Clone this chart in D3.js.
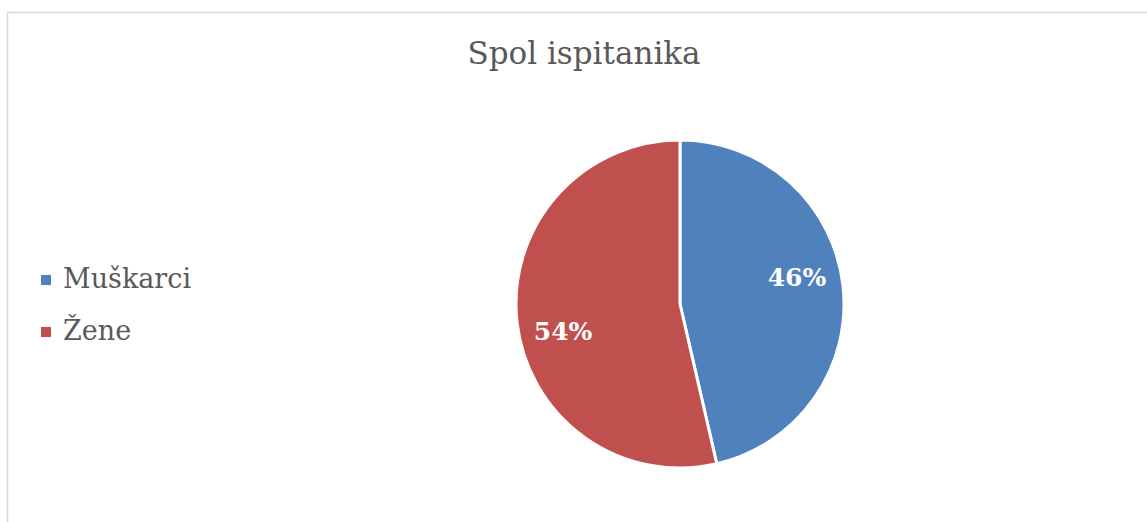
<!DOCTYPE html>
<html>
<head>
<meta charset="utf-8">
<script src="https://cdn.jsdelivr.net/npm/d3@7"></script>
<style>
  body { margin: 0; background: #fff; }
  svg { display: block; }
</style>
</head>
<body>
<svg id="chart" width="1147" height="522"></svg>
<script>
// data
var categories = ["Muškarci", "Žene"];
var values = [46.4, 53.6];
var labels = ["46%", "54%"];
var colors = ["#4F81BD", "#C0504D"];
var title = "Spol ispitanika";

var svg = d3.select("#chart");
var font = "'DejaVu Serif', serif";

// chart area frame (bottom runs off the picture)
svg.append("rect")
    .attr("x", 7.5).attr("y", 12.5)
    .attr("width", 1160).attr("height", 540)
    .attr("fill", "#fff")
    .attr("stroke", "#d9d9d9").attr("stroke-width", 1.5);

svg.append("text")
    .attr("x", 584).attr("y", 64)
    .attr("text-anchor", "middle")
    .attr("font-family", font)
    .attr("font-size", 31)
    .attr("fill", "#595959")
    .text(title);

var cx = 680, cy = 304, r = 164;

var pie = d3.pie().sort(null).value(function(d) { return d; });
var arcs = pie(values);
var arc = d3.arc().innerRadius(0).outerRadius(r);

var g = svg.append("g").attr("transform", "translate(" + cx + "," + cy + ")");

g.selectAll("path")
    .data(arcs)
    .enter().append("path")
    .attr("d", arc)
    .attr("fill", function(d, i) { return colors[i]; })
    .attr("stroke", "#fff")
    .attr("stroke-width", 3)
    .attr("stroke-linejoin", "round");

// labels sit a little counter-clockwise of the slice middle (excel best fit)
var lr = 120, shift = 6.5 * Math.PI / 180;
g.selectAll("text.lbl")
    .data(arcs)
    .enter().append("text")
    .attr("class", "lbl")
    .attr("transform", function(d) {
        var a = (d.startAngle + d.endAngle) / 2 - shift;
        return "translate(" + (lr * Math.sin(a)) + "," + (-lr * Math.cos(a)) + ")";
    })
    .attr("text-anchor", "middle")
    .attr("dy", "0.36em")
    .attr("font-family", font)
    .attr("font-weight", "bold")
    .attr("font-size", 25)
    .attr("fill", "#fff")
    .text(function(d, i) { return labels[i]; });

// legend
var legend = svg.append("g");
categories.forEach(function(c, i) {
    var y = 288 + i * 52;
    legend.append("rect")
        .attr("x", 41).attr("y", y - 13)
        .attr("width", 10).attr("height", 10)
        .attr("fill", colors[i]);
    legend.append("text")
        .attr("x", 63).attr("y", y)
        .attr("font-family", font)
        .attr("font-size", 27)
        .attr("fill", "#595959")
        .text(c);
});
</script>
</body>
</html>
